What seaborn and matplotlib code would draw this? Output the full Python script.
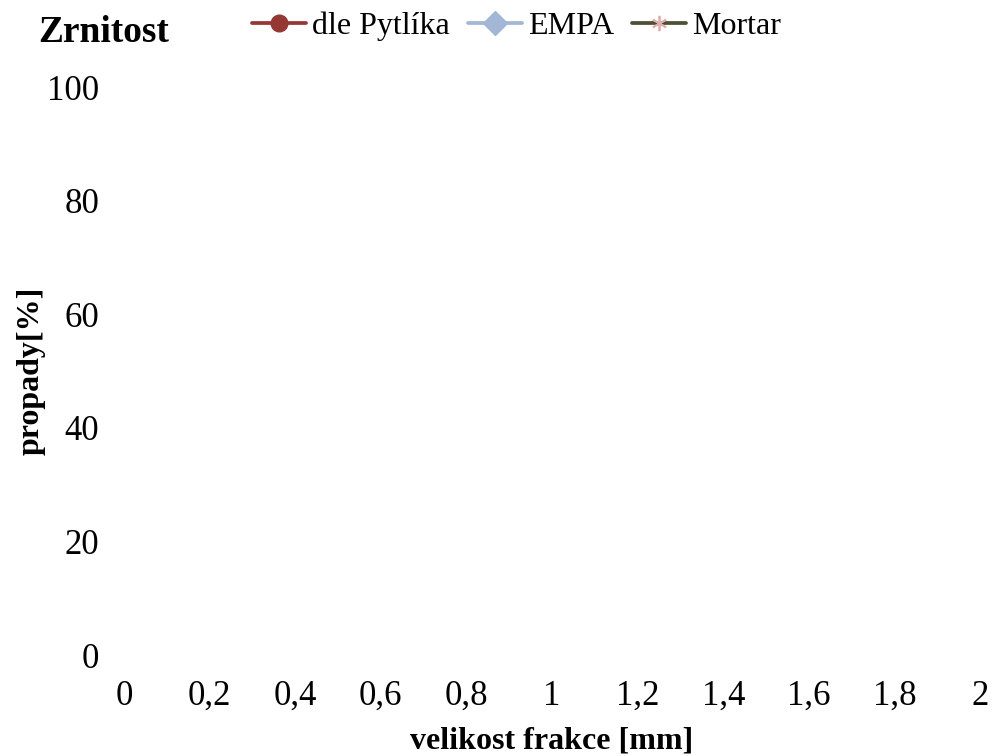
import matplotlib
matplotlib.use("Agg")
import matplotlib.pyplot as plt
import seaborn as sns
import pandas as pd

# Series names and their (empty) grain-size measurements
series_names = ["dle Pytlíka", "EMPA", "Mortar"]
size_pytlik = []
pass_pytlik = []
size_empa = []
pass_empa = []
size_mortar = []
pass_mortar = []

x_ticks = [0, 0.2, 0.4, 0.6, 0.8, 1, 1.2, 1.4, 1.6, 1.8, 2]
y_ticks = [0, 20, 40, 60, 80, 100]

sns.set_theme(style="white")
plt.rcParams["font.family"] = ["Liberation Serif", "DejaVu Serif"]
plt.rcParams["text.color"] = "black"
plt.rcParams["axes.labelcolor"] = "black"

fig = plt.figure(figsize=(9.97, 7.56), dpi=100)
ax = fig.add_axes([124 / 997, 1 - 655 / 756, (980 - 124) / 997, (655 - 87) / 756])

styles = [
    dict(color="#953735", marker="o", markersize=12, mfc="#953735", mec="#953735"),
    dict(color="#A2B7D6", marker="D", markersize=12.5, mfc="#A2B7D6", mec="#A2B7D6"),
    dict(color="#4F4F36", marker=(6, 2, 0), markersize=11, mfc="#E0AFAD",
         mec="#E0AFAD", mew=1.3),
]
data = [(size_pytlik, pass_pytlik), (size_empa, pass_empa), (size_mortar, pass_mortar)]

for name, (xs, ys), st in zip(series_names, data, styles):
    df = pd.DataFrame({"x": pd.Series(xs, dtype=float), "y": pd.Series(ys, dtype=float)})
    ax.plot(df["x"], df["y"], linewidth=2.7, label=name, **st)

ax.set_xlim(0, 2)
ax.set_ylim(0, 100)
ax.set_xticks(x_ticks)
ax.set_xticklabels([f"{v:g}".replace(".", ",") for v in x_ticks])
ax.set_yticks(y_ticks)
ax.set_yticklabels([str(v) for v in y_ticks])
ax.tick_params(axis="both", length=0, labelsize=25, colors="black")
ax.tick_params(axis="x", pad=18)
ax.tick_params(axis="y", pad=18)
sns.despine(ax=ax, left=True, bottom=True)
ax.grid(False)

ax.set_xlabel("velikost frakce [mm]", fontsize=23, fontweight="bold", labelpad=10)
ax.set_ylabel("propady[%]", fontsize=23, fontweight="bold", labelpad=1)

fig.text(38 / 997, 1 - 32 / 756, "Zrnitost", fontsize=27, fontweight="bold",
         ha="left", va="center")

fig.legend(loc="center left", bbox_to_anchor=(252 / 997, 1 - 26 / 756), ncol=3,
           frameon=False, fontsize=23, handlelength=1.7, handletextpad=0.19,
           columnspacing=0.55, borderaxespad=0, borderpad=0)

fig.savefig("out.png", dpi=100, facecolor="white")
